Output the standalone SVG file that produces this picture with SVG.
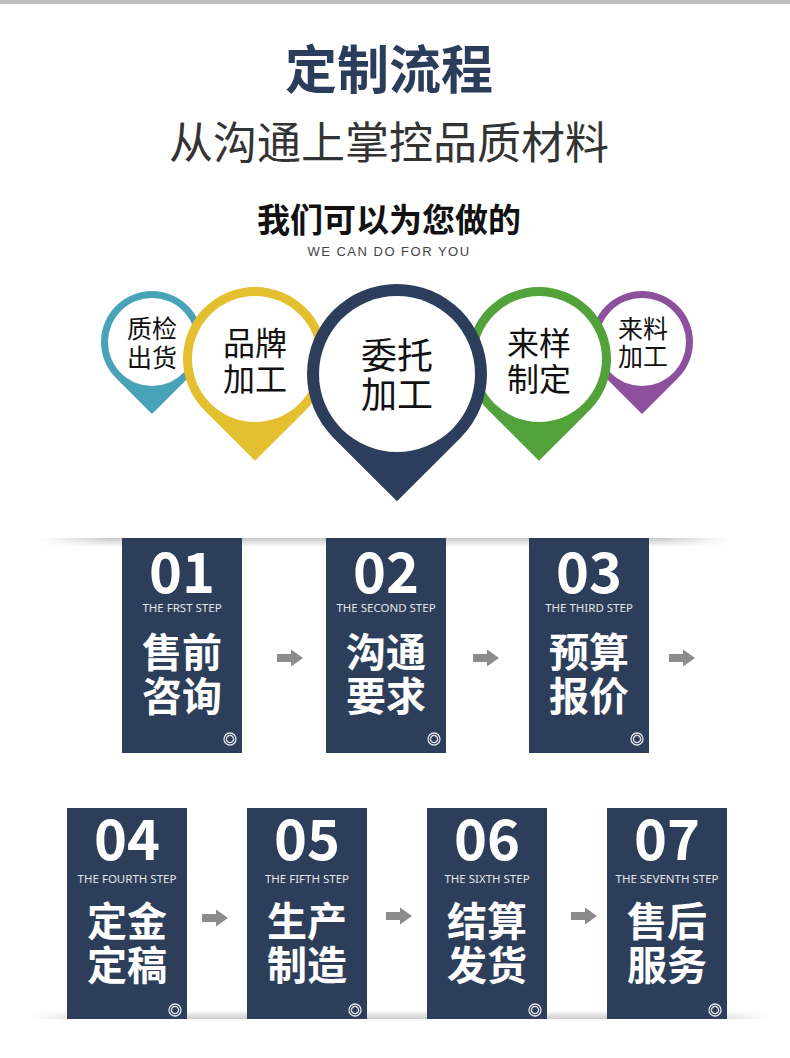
<svg xmlns="http://www.w3.org/2000/svg" width="790" height="1058" viewBox="0 0 790 1058">
<defs>
<style>
.cjk{font-family:"Noto Sans CJK SC","Noto Sans",sans-serif;}
.title{font-size:52px;font-weight:bold;fill:#2c3d5b;text-anchor:middle;}
.sub{font-size:44px;fill:#333333;text-anchor:middle;}
.h2{font-size:33px;font-weight:bold;fill:#111111;text-anchor:middle;}
.en{font-family:"Liberation Sans",Arial,sans-serif;font-size:13px;fill:#444444;text-anchor:middle;letter-spacing:1.5px;}
.pt{fill:#111111;text-anchor:middle;}
.card{fill:#2d3e5a;}
.num{font-family:"Noto Sans CJK SC","Noto Sans",sans-serif;font-size:56px;font-weight:bold;fill:#ffffff;text-anchor:middle;}
.step{font-family:"Noto Sans","Liberation Sans",sans-serif;font-size:11.5px;fill:#e3e6ec;text-anchor:middle;}
.ct{font-size:40px;font-weight:bold;fill:#ffffff;text-anchor:middle;}
.ring{fill:none;stroke:#e3e6ec;stroke-width:1.3;}
.arrow{fill:#8c8c8c;}
</style>
<path id="arr" d="M0 -4 L14 -4 L14 -8.5 L26 0 L14 8.5 L14 4 L0 4 Z"/>
<g id="ico"><circle r="6" class="ring"/><circle r="3.6" class="ring"/></g>
<linearGradient id="hfade" x1="0" y1="0" x2="1" y2="0">
<stop offset="0" stop-color="#fff" stop-opacity="0"/>
<stop offset="0.1" stop-color="#fff" stop-opacity="1"/>
<stop offset="0.9" stop-color="#fff" stop-opacity="1"/>
<stop offset="1" stop-color="#fff" stop-opacity="0"/>
</linearGradient>
<linearGradient id="vdown" x1="0" y1="0" x2="0" y2="1">
<stop offset="0" stop-color="#000" stop-opacity="0.22"/>
<stop offset="1" stop-color="#000" stop-opacity="0"/>
</linearGradient>
<linearGradient id="vup" x1="0" y1="0" x2="0" y2="1">
<stop offset="0" stop-color="#000" stop-opacity="0"/>
<stop offset="1" stop-color="#000" stop-opacity="0.2"/>
</linearGradient>
<mask id="m1" maskContentUnits="userSpaceOnUse"><rect x="40" y="530" width="690" height="20" fill="url(#hfade)"/></mask>
<mask id="m2" maskContentUnits="userSpaceOnUse"><rect x="30" y="1005" width="740" height="20" fill="url(#hfade)"/></mask>
</defs>
<rect width="790" height="1058" fill="#ffffff"/>
<rect width="790" height="4" fill="#bcbdbf"/>

<g id="header" class="cjk">
<text class="cjk title" x="389" y="89">定制流程</text>
<text class="cjk sub" x="389" y="159">从沟通上掌控品质材料</text>
<text class="cjk h2" x="389" y="232">我们可以为您做的</text>
<text class="en" x="389" y="256">WE CAN DO FOR YOU</text>
</g>

<g id="pin-teal">
<path d="M152 414.1 L115.94 378.06 A51 51 0 1 1 188.06 378.06 Z" fill="#48a2b8"/>
<circle cx="152" cy="342" r="44" fill="#ffffff"/>
<text class="cjk pt" x="152" y="338" font-size="25">质检</text>
<text class="cjk pt" x="152" y="367" font-size="25">出货</text>
</g>
<g id="pin-purple">
<path d="M642 414.1 L605.94 378.06 A51 51 0 1 1 678.06 378.06 Z" fill="#8c509c"/>
<circle cx="642" cy="342" r="44" fill="#ffffff"/>
<text class="cjk pt" x="643" y="338" font-size="25">来料</text>
<text class="cjk pt" x="643" y="366" font-size="25">加工</text>
</g>
<g id="pin-yellow">
<path d="M255 460.8 L204.09 409.91 A72 72 0 1 1 305.91 409.91 Z" fill="#e4bf2f"/>
<circle cx="255" cy="359" r="63" fill="#ffffff"/>
<text class="cjk pt" x="255" y="355" font-size="32">品牌</text>
<text class="cjk pt" x="255" y="391" font-size="32">加工</text>
</g>
<g id="pin-green">
<path d="M539 460.8 L488.09 409.91 A72 72 0 1 1 589.91 409.91 Z" fill="#52a23a"/>
<circle cx="539" cy="359" r="63" fill="#ffffff"/>
<text class="cjk pt" x="539" y="355" font-size="32">来样</text>
<text class="cjk pt" x="539" y="391" font-size="32">制定</text>
</g>
<g id="pin-navy">
<path d="M397 501.3 L333.36 437.64 A90 90 0 1 1 460.64 437.64 Z" fill="#2c3e5b"/>
<circle cx="397" cy="374" r="78" fill="#ffffff"/>
<text class="cjk pt" x="397" y="369" font-size="36">委托</text>
<text class="cjk pt" x="397" y="408" font-size="36">加工</text>
</g>

<g id="shadows">
<rect x="40" y="538" width="690" height="9" fill="url(#vdown)" mask="url(#m1)"/>
<rect x="30" y="1010" width="740" height="9" fill="url(#vup)" mask="url(#m2)"/>
</g>

<g id="step01">
<rect class="card" x="122" y="538" width="120" height="215"/>
<text class="num" x="182" y="593">01</text>
<text class="step" x="182" y="612">THE FRST STEP</text>
<text class="cjk ct" x="182" y="667">售前</text>
<text class="cjk ct" x="182" y="711">咨询</text>
<use href="#ico" x="230" y="739"/>
</g>
<g id="step02">
<rect class="card" x="326" y="538" width="120" height="215"/>
<text class="num" x="386" y="593">02</text>
<text class="step" x="386" y="612">THE SECOND STEP</text>
<text class="cjk ct" x="386" y="667">沟通</text>
<text class="cjk ct" x="386" y="711">要求</text>
<use href="#ico" x="434" y="739"/>
</g>
<g id="step03">
<rect class="card" x="529" y="538" width="120" height="215"/>
<text class="num" x="589" y="593">03</text>
<text class="step" x="589" y="612">THE THIRD STEP</text>
<text class="cjk ct" x="589" y="667">预算</text>
<text class="cjk ct" x="589" y="711">报价</text>
<use href="#ico" x="637" y="739"/>
</g>
<g id="step04">
<rect class="card" x="67" y="808" width="120" height="211"/>
<text class="num" x="127" y="860">04</text>
<text class="step" x="127" y="883">THE FOURTH STEP</text>
<text class="cjk ct" x="127" y="936">定金</text>
<text class="cjk ct" x="127" y="980">定稿</text>
<use href="#ico" x="175" y="1010"/>
</g>
<g id="step05">
<rect class="card" x="247" y="808" width="120" height="211"/>
<text class="num" x="307" y="860">05</text>
<text class="step" x="307" y="883">THE FIFTH STEP</text>
<text class="cjk ct" x="307" y="936">生产</text>
<text class="cjk ct" x="307" y="980">制造</text>
<use href="#ico" x="355" y="1010"/>
</g>
<g id="step06">
<rect class="card" x="427" y="808" width="120" height="211"/>
<text class="num" x="487" y="860">06</text>
<text class="step" x="487" y="883">THE SIXTH STEP</text>
<text class="cjk ct" x="487" y="936">结算</text>
<text class="cjk ct" x="487" y="980">发货</text>
<use href="#ico" x="535" y="1010"/>
</g>
<g id="step07">
<rect class="card" x="607" y="808" width="120" height="211"/>
<text class="num" x="667" y="860">07</text>
<text class="step" x="667" y="883">THE SEVENTH STEP</text>
<text class="cjk ct" x="667" y="936">售后</text>
<text class="cjk ct" x="667" y="980">服务</text>
<use href="#ico" x="715" y="1010"/>
</g>

<g id="connectors" class="arrow">
<use href="#arr" x="277" y="658"/>
<use href="#arr" x="473" y="658"/>
<use href="#arr" x="669" y="658"/>
<use href="#arr" x="202" y="918"/>
<use href="#arr" x="386" y="916"/>
<use href="#arr" x="571" y="916"/>
</g>
</svg>
